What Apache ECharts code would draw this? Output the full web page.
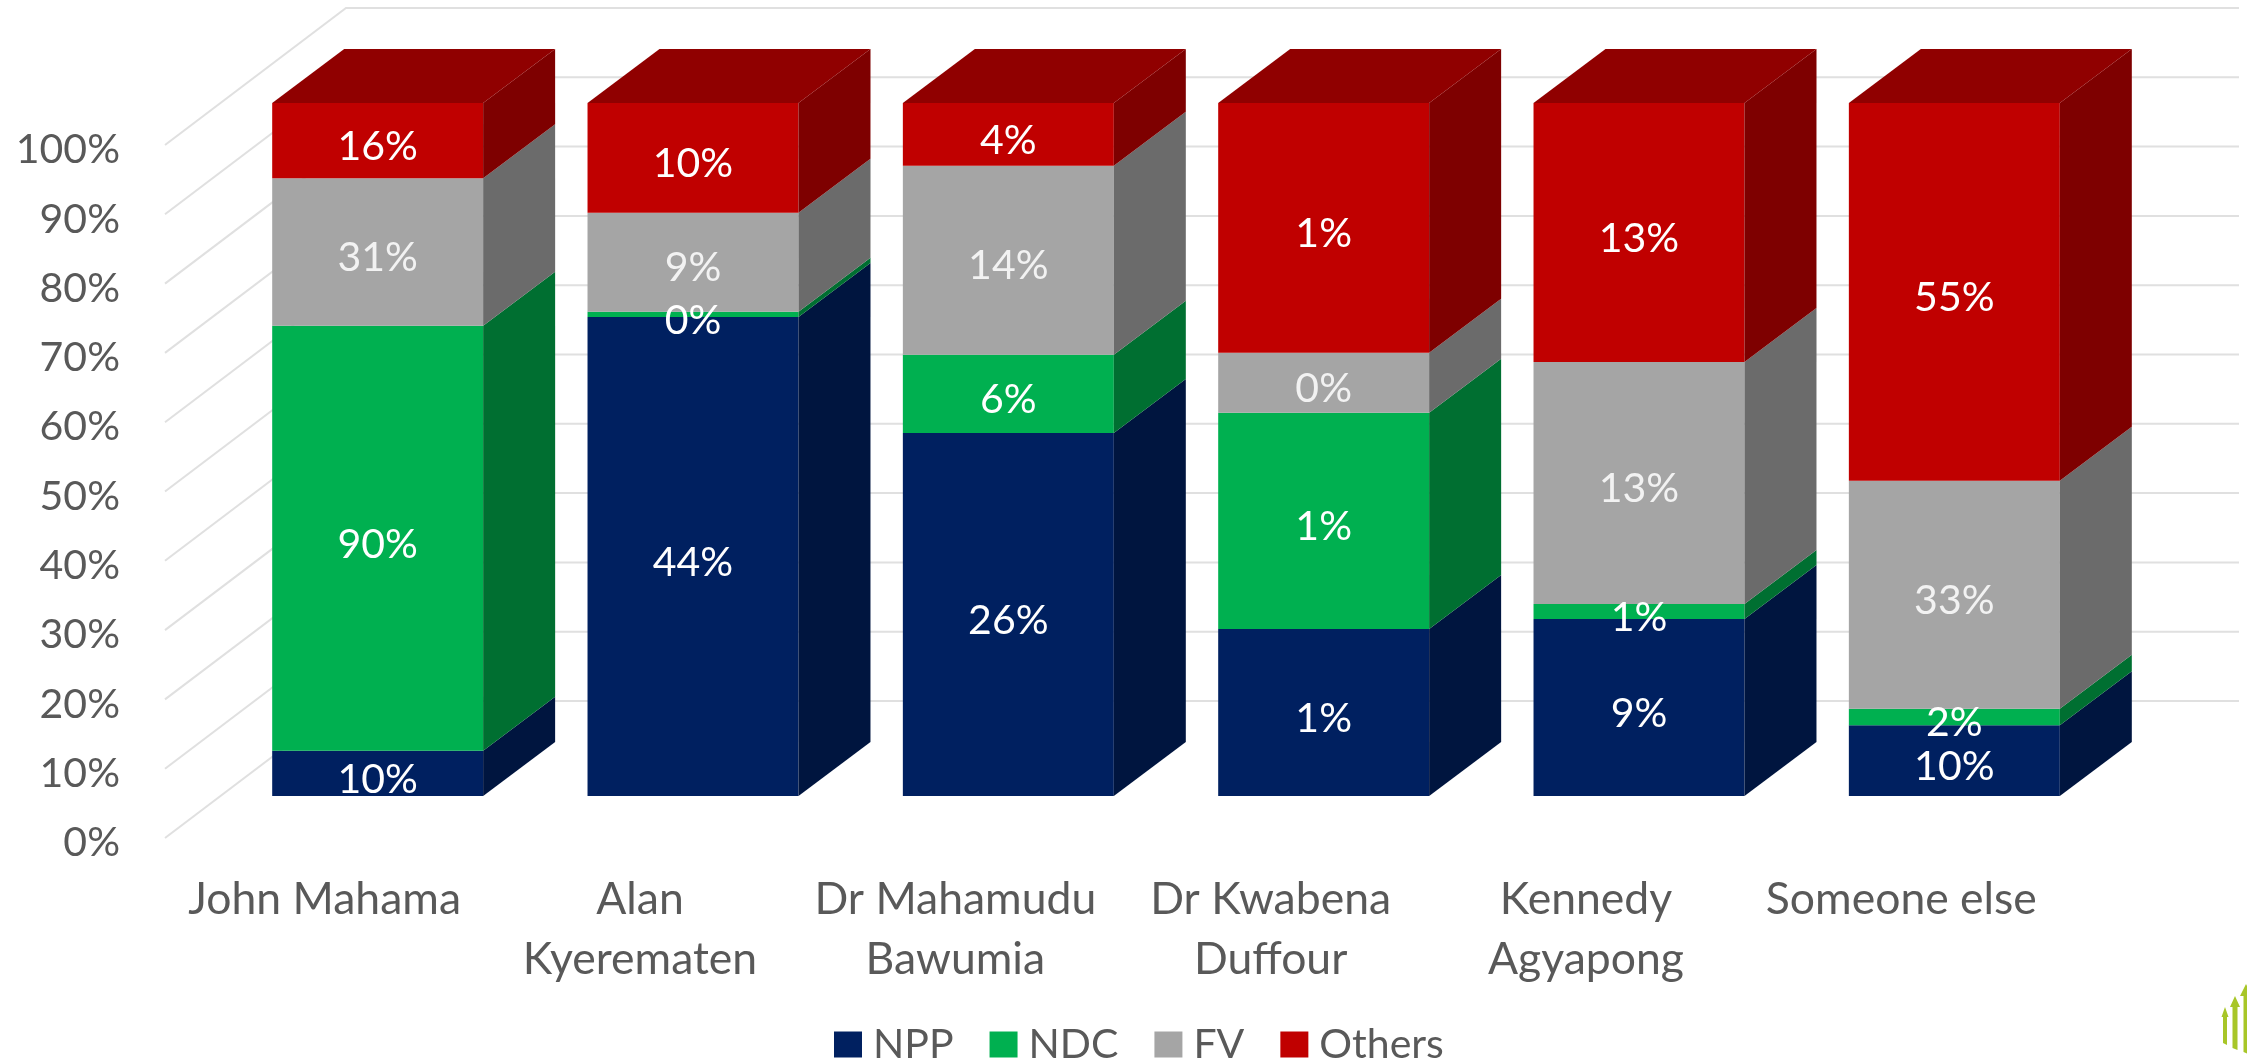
<!DOCTYPE html>
<html>
<head>
<meta charset="utf-8">
<title>Chart</title>
<style>
  html, body { margin: 0; padding: 0; background: #fff; }
  #main { width: 2247px; height: 1060px; }
</style>
<script src="https://cdn.jsdelivr.net/npm/echarts@6/dist/echarts.min.js"></script>
</head>
<body>
<div id="main"></div>
<script>
var categories = ['John Mahama', 'Alan\nKyerematen', 'Dr Mahamudu\nBawumia', 'Dr Kwabena\nDuffour', 'Kennedy\nAgyapong', 'Someone else'];
var yTicks = [0, 10, 20, 30, 40, 50, 60, 70, 80, 90, 100];

// raw values, each bar is stacked to 100%
var npp = [9.6, 43.6, 26, 0.795, 9.2, 10.2];
var ndc = [90.4, 0.49, 5.6, 1.03, 0.78, 2.4];
var fv = [31.4, 9, 13.55, 0.286, 12.56, 32.9];
var others = [16, 10, 4.49, 1.19, 13.46, 54.5];

var seriesNames = ['NPP', 'NDC', 'FV', 'Others'];
var seriesValues = [npp, ndc, fv, others];
var frontColors = ['#002060', '#00B050', '#A5A5A5', '#C00000'];
var sideColors = ['#00153F', '#006F31', '#6B6B6B', '#7E0000'];
var topColor = '#900000';

var font = 'Lato';
var textColor = '#595959';
var fontSize = 41;
var catFontSize = 44.5;

// depth of the box behind the axis plane
var wallDx = 181, wallDy = 137;
// bars stand a bit behind the axis plane
var barDx = 55, barDy = 42;
// bar depth
var sideDx = 72, sideDy = 54;
var wallRight = 2239;

function stackRows(s) {
  return categories.map(function (c, i) {
    var total = 0, base = 0;
    seriesValues.forEach(function (v) { total += v[i]; });
    for (var k = 0; k < s; k++) base += seriesValues[k][i];
    var val = seriesValues[s][i];
    return [i, base / total * 100, (base + val) / total * 100, Math.round(val) + '%'];
  });
}

function renderBar(s) {
  return function (params, api) {
    var i = api.value(0);
    var lo = api.coord([i, api.value(1)]);
    var hi = api.coord([i, api.value(2)]);
    var w = api.size([1, 0])[0] * 0.669;
    var x0 = lo[0] + barDx - w / 2;
    var x1 = x0 + w;
    var yLo = lo[1] - barDy;
    var yHi = hi[1] - barDy;
    var kids = [
      { type: 'rect', shape: { x: x0, y: yHi, width: w, height: yLo - yHi }, style: { fill: frontColors[s] } },
      {
        type: 'polygon',
        shape: { points: [[x1, yHi], [x1 + sideDx, yHi - sideDy], [x1 + sideDx, yLo - sideDy], [x1, yLo]] },
        style: { fill: sideColors[s] }
      }
    ];
    if (api.value(2) > 99.99) {
      kids.push({
        type: 'polygon',
        shape: { points: [[x0, yHi], [x0 + sideDx, yHi - sideDy], [x1 + sideDx, yHi - sideDy], [x1, yHi]] },
        style: { fill: topColor }
      });
    }
    kids.push({
      type: 'text',
      z2: 20,
      style: {
        x: (x0 + x1) / 2,
        y: (yLo + yHi) / 2 + 6,
        text: api.value(3),
        fill: s === 2 ? '#F2F2F2' : '#FFFFFF',
        fontFamily: font,
        fontSize: fontSize,
        align: 'center',
        verticalAlign: 'middle'
      }
    });
    return { type: 'group', children: kids };
  };
}

function renderWall(params, api) {
  var y = api.coord([0, api.value(0)])[1];
  var x = params.coordSys.x;
  return {
    type: 'polyline',
    shape: { points: [[x, y], [x + wallDx, y - wallDy], [wallRight, y - wallDy]] },
    style: { fill: null, stroke: '#E0E0E0', lineWidth: 2 }
  };
}

var series = [{
  type: 'custom',
  name: 'wall',
  silent: true,
  z: 1,
  data: yTicks.map(function (t) { return [t]; }),
  encode: { y: 0 },
  renderItem: renderWall
}];
seriesNames.forEach(function (name, s) {
  series.push({
    type: 'custom',
    name: name,
    z: 2,
    itemStyle: { color: frontColors[s] },
    data: stackRows(s),
    dimensions: ['cat', 'lo', 'hi', { name: 'label', type: 'ordinal' }],
    encode: { x: 0, y: 2 },
    renderItem: renderBar(s)
  });
});

// small arrows logo in the corner, cut by the page edge
function arrow(cx, top, bottom, shaft, head, headH) {
  return {
    type: 'polygon',
    shape: {
      points: [
        [cx, top], [cx + head / 2, top + headH], [cx + shaft / 2, top + headH],
        [cx + shaft / 2, bottom + 2], [cx - shaft / 2, bottom], [cx - shaft / 2, top + headH],
        [cx - head / 2, top + headH]
      ]
    },
    style: { fill: '#A8C628' }
  };
}

var myChart = echarts.init(document.getElementById('main'));
myChart.setOption({
  animation: false,
  backgroundColor: '#fff',
  grid: { left: 165, top: 145, width: 1892, height: 693, containLabel: false },
  xAxis: {
    type: 'category',
    data: categories,
    axisLine: { show: false },
    axisTick: { show: false },
    splitLine: { show: false },
    axisLabel: {
      interval: 0,
      margin: 32,
      color: textColor,
      fontFamily: font,
      fontSize: catFontSize,
      lineHeight: 60,
      padding: [0, 0, 0, 4]
    }
  },
  yAxis: {
    type: 'value',
    min: 0,
    max: 100,
    interval: 10,
    axisLine: { show: false },
    axisTick: { show: false },
    splitLine: { show: false },
    axisLabel: {
      margin: 45,
      formatter: '{value}%',
      color: textColor,
      fontFamily: font,
      fontSize: fontSize,
      // labels sit a little under their tick
      verticalAlign: 'top',
      lineHeight: 10
    }
  },
  legend: {
    data: seriesNames,
    left: 834,
    top: 1024,
    padding: 0,
    icon: 'rect',
    itemWidth: 28,
    itemHeight: 26,
    itemGap: 36,
    selectedMode: false,
    textStyle: { color: textColor, fontFamily: font, fontSize: 41, padding: [0, 0, 0, 6] }
  },
  graphic: {
    elements: [
      arrow(2225, 1007, 1043, 4, 7, 10),
      arrow(2235, 996, 1048, 5, 10, 11),
      arrow(2246, 984, 1052, 5, 12, 12)
    ]
  },
  series: series
});
</script>
</body>
</html>
